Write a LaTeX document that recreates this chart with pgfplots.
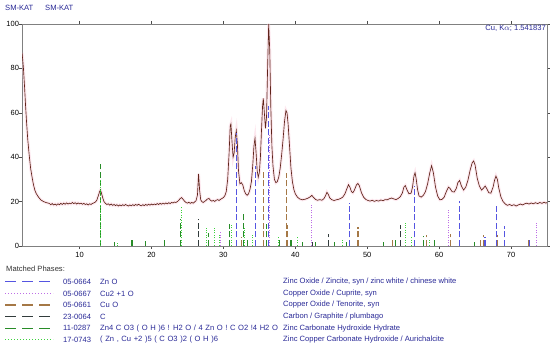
\documentclass[border=0pt]{standalone}
\usepackage{fontspec}
\setmainfont{Liberation Sans}
\usepackage{pgfplots}
\pgfplotsset{compat=1.18}
\definecolor{curvebrown}{RGB}{95,35,25}
\definecolor{curveshade}{RGB}{250,205,220}
\definecolor{znoblue}{RGB}{85,85,225}
\definecolor{cuviolet}{RGB}{190,110,230}
\definecolor{cuobrown}{RGB}{165,120,70}
\definecolor{cgray}{RGB}{50,60,60}
\definecolor{hzgreen}{RGB}{40,140,40}
\definecolor{augreen}{RGB}{60,210,60}
\definecolor{textblue}{RGB}{40,40,150}
\newcommand\frm[1]{{\spaceskip=0.34em\relax #1}}
\begin{document}
\begin{tikzpicture}[font=\fontsize{7.6}{8}\selectfont]
\useasboundingbox (0pt,0pt) rectangle (550pt,344pt);
\begin{axis}[scale only axis,width=525pt,height=222pt,at={(22pt,98pt)},anchor=south west,
  xmin=2,xmax=75,ymin=0,ymax=100,xtick={10,20,30,40,50,60,70},ytick={0,20,40,60,80,100},
  tick align=outside,major tick length=3pt,axis line style={draw=black!50},
  every tick/.style={black!70},/pgf/number format/assume math mode=true,
  tick label style={font=\fontsize{7.5}{8}\selectfont},yticklabel style={xshift=3.5pt}]
% measured pattern
\addplot[curvebrown,line width=0.65pt,preaction={draw=curveshade,line width=3pt,opacity=0.45}] coordinates {
(2.0,87)(2.1,84)(2.2,80)(2.35,72)(2.5,63)(2.65,55)(2.8,48)(3.0,41)(3.2,35)(3.4,31)(3.6,27.5)(3.8,25)(4.0,23.5)(4.3,22)(4.6,20.8)(5.0,20)(5.4,19.5)(5.8,19.2)
(6.0,18.6)(6.2,19.1)(6.4,18.5)(6.6,18.9)(6.8,18.4)(7.0,19.0)(7.2,18.6)(7.4,19.2)(7.6,18.7)(7.8,19.3)(8.0,18.8)(8.2,19.4)(8.4,18.9)(8.6,19.3)(8.8,19.0)
(9.0,19.6)(9.2,19.1)(9.4,19.5)(9.6,18.9)(9.8,19.4)(10.0,19.0)(10.2,19.3)(10.4,18.8)(10.6,19.2)(10.8,18.7)(11.0,19.0)(11.2,18.5)(11.4,19.0)(11.6,18.7)
(11.8,19.2)(12.0,19.4)(12.2,19.8)(12.4,20.6)(12.6,22.5)(12.8,24.6)(12.9,25.2)(13.0,24.4)(13.2,22.0)(13.4,20.0)(13.6,19.2)(13.8,18.7)(14.0,19.0)
(14.2,18.4)(14.4,18.9)(14.6,18.3)(14.8,18.7)(15.0,18.2)(15.2,18.6)(15.4,18.0)(15.6,18.5)(15.8,18.1)(16.0,18.6)(16.2,18.2)(16.4,18.7)(16.6,18.3)
(16.8,18.0)(17.0,18.5)(17.2,18.1)(17.4,18.6)(17.6,18.2)(17.8,18.7)(18.0,18.3)(18.2,18.8)(18.4,18.4)(18.6,18.1)(18.8,18.6)(19.0,18.2)(19.2,18.7)
(19.4,18.3)(19.6,18.8)(19.8,18.4)(20.0,18.9)(20.2,18.5)(20.4,18.9)(20.6,18.6)(20.8,19.1)(21.0,18.7)(21.2,19.2)(21.4,18.8)(21.6,19.3)(21.8,18.9)
(22.0,19.4)(22.2,19.0)(22.4,19.5)(22.6,19.1)(22.8,19.6)(23.0,19.4)(23.2,19.8)(23.4,19.6)(23.6,20.0)(23.8,20.6)(24.0,21.4)(24.2,21.8)(24.4,21.0)
(24.6,20.2)(24.8,19.6)(25.0,19.3)(25.2,19.7)(25.4,19.2)(25.6,19.6)(25.8,19.3)(26.0,19.8)(26.2,20.4)(26.4,23)(26.55,32.5)(26.7,25)(26.85,20.8)
(27.0,20.0)(27.2,19.6)(27.4,20.1)(27.6,20.6)(27.8,21.2)(28.0,21.4)(28.2,20.6)(28.4,20.2)(28.6,20.5)(28.8,20.1)(29.0,20.6)(29.2,20.9)(29.4,20.5)
(29.6,21.0)(29.8,21.4)(30.0,21.8)(30.2,22.6)(30.4,24.5)(30.6,30)(30.8,42)(30.95,54)(31.05,55)(31.2,47)(31.35,40)(31.5,42)(31.65,49)(31.8,52)
(31.95,46)(32.1,34)(32.3,28)(32.5,28.5)(32.7,27.5)(32.9,25)(33.1,23.5)(33.3,22.8)(33.5,23.5)(33.7,25.5)(33.9,29)(34.1,37)(34.25,45)(34.4,48.5)
(34.55,42)(34.7,34)(34.85,31)(35.0,33)(35.15,40)(35.3,52)(35.45,63)(35.55,66.5)(35.7,60)(35.85,53)(36.0,58)(36.15,80)(36.3,100)(36.45,88)
(36.6,62)(36.75,45)(36.9,36)(37.1,30)(37.3,28.5)(37.5,29)(37.7,31)(37.9,35)(38.1,41)(38.3,48)(38.5,56)(38.7,61)(38.85,60)(39.0,55)(39.2,45)
(39.4,35)(39.6,29)(39.8,25.5)(40.0,23.5)(40.3,22.0)(40.6,21.2)(41.0,20.8)(41.4,21.1)(41.8,21.6)(42.1,22.2)(42.3,22.8)(42.5,22.0)(42.8,21.0)
(43.1,20.6)(43.4,20.9)(43.7,20.6)(44.0,21.4)(44.2,22.6)(44.4,24.2)(44.6,23.2)(44.8,21.6)(45.1,20.8)(45.4,20.5)(45.7,20.8)(46.0,21.0)(46.3,21.4)
(46.6,22.0)(46.9,23.5)(47.2,26.0)(47.4,27.6)(47.6,26.5)(47.8,24.5)(48.0,24.0)(48.2,25.0)(48.5,27.5)(48.7,28.2)(48.9,27.2)(49.2,24.0)(49.5,22.0)
(49.8,21.0)(50.1,20.5)(50.4,20.2)(50.7,20.6)(51.0,20.1)(51.3,20.5)(51.6,20.2)(51.9,20.7)(52.2,20.4)(52.5,20.9)(52.8,20.8)(53.1,21.3)(53.4,21.6)
(53.7,21.2)(54.0,20.9)(54.3,21.4)(54.6,22.2)(54.9,24.0)(55.1,26.5)(55.3,27.2)(55.5,25.5)(55.8,23.5)(56.1,23.8)(56.3,26.5)(56.5,31.5)(56.65,33)
(56.8,30.5)(57.0,25.5)(57.2,22.6)(57.5,22.0)(57.8,22.8)(58.1,24.5)(58.4,28)(58.7,33)(58.95,36.2)(59.2,33)(59.5,26.5)(59.8,22.5)(60.1,20.8)
(60.4,21.0)(60.7,22.0)(61.0,24.5)(61.3,26.5)(61.5,26.0)(61.8,24.5)(62.1,24.3)(62.4,26.0)(62.6,28.5)(62.85,29.5)(63.1,27.0)(63.4,25.2)(63.7,26.5)
(64.0,29.5)(64.3,34.0)(64.6,37.5)(64.8,38.3)(65.0,36.5)(65.3,30.5)(65.6,27.0)(65.9,25.2)(66.1,25.8)(66.4,27.0)(66.6,26.0)(66.9,24.0)(67.2,23.8)
(67.5,26.5)(67.7,29.5)(67.9,31.5)(68.1,30.0)(68.3,26.0)(68.6,22.0)(68.9,20.0)(69.2,18.9)(69.5,18.3)(69.8,18.7)(70.1,18.2)(70.4,18.6)(70.7,18.0)
(71.0,18.5)(71.3,18.9)(71.6,18.5)(71.9,19.0)(72.2,19.3)(72.5,18.9)(72.8,19.4)(73.1,19.0)(73.4,19.5)(73.7,19.1)(74.0,19.6)(74.3,19.2)(74.6,19.7)
(74.85,19.3)(75.0,19.6)};
% reference sticks
\addplot[ycomb,hzgreen,line width=1.1pt,dash pattern=on 6pt off 2.5pt] coordinates {
(12.95,37)(14.8,2)(17.3,3.7)(19.2,2.4)(21.8,3.3)(24.1,12)(27.9,5.8)(30.9,10)(32.75,15)(33.3,3)(36.0,10)(37.8,3)(39.4,3)(41.0,2)(42.8,2)
(45.5,2)(47.1,2)(52.3,2)(53.9,3)(57.8,4.5)(59.3,3.5)(64.9,2)};
\addplot[ycomb,augreen,line width=0.9pt,dash pattern=on 1pt off 1.5pt] coordinates {
(12.85,30)(15.3,1.5)(24.2,17.7)(27.6,8)(28.7,8)(29.4,5)(31.15,9.5)(33.0,8)(34.1,5)(37.7,4.2)(40.3,4.5)(46.6,3)(55.3,10.2)(56.1,4.5)(58.7,3)};
\addplot[ycomb,cgray,line width=1.1pt,dash pattern=on 6pt off 2.5pt] coordinates {
(26.55,12)(42.4,2)(44.6,5.3)(54.6,9.5)};
\addplot[ycomb,cuobrown,line width=1.1pt,dash pattern=on 6pt off 2.5pt] coordinates {
(32.5,4)(35.54,33.5)(38.74,33)(38.95,9.5)(48.72,8.7)(53.49,3.5)(58.27,5)(61.52,5.4)(65.8,3)(66.22,5)(68.12,5)(72.4,2.5)};
\addplot[ycomb,cuviolet,line width=0.9pt,dash pattern=on 1pt off 1.5pt] coordinates {
(29.55,6.5)(36.42,50)(42.30,18.5)(61.35,16)(73.53,10.4)};
\addplot[ycomb,znoblue,line width=1.1pt,dash pattern=on 6pt off 2.5pt] coordinates {
(31.77,51)(34.42,36)(36.25,63)(47.54,19.4)(56.60,27)(62.86,20.4)(66.38,4)(67.96,18.8)(69.10,9)(72.56,2.5)};
\end{axis}
\node[anchor=west,text=textblue,inner sep=0pt] at (5pt,335.7pt) {SM-KAT};
\node[anchor=west,text=textblue,inner sep=0pt] at (45pt,335.7pt) {SM-KAT};
\node[anchor=east,text=textblue,inner sep=0pt] at (546pt,315.5pt) {Cu, K\(\alpha\); 1.541837};
\node[anchor=west,text=black!80,inner sep=0pt] at (6pt,75pt) {Matched Phases:};
\draw[znoblue,line width=1.2pt,dash pattern=on 11pt off 6pt] (5pt,62.3pt) -- (51pt,62.3pt);
\draw[cuviolet,line width=1pt,dash pattern=on 1pt off 2pt] (5pt,50.6pt) -- (53pt,50.6pt);
\draw[cuobrown,line width=1.2pt,dash pattern=on 11pt off 6pt] (5pt,39pt) -- (51pt,39pt);
\draw[cgray,line width=1.2pt,dash pattern=on 11pt off 6pt] (5pt,27.3pt) -- (51pt,27.3pt);
\draw[hzgreen,line width=1.2pt,dash pattern=on 11pt off 6pt] (5pt,15.7pt) -- (51pt,15.7pt);
\draw[augreen,line width=1pt,dash pattern=on 1pt off 2pt] (5pt,4pt) -- (53pt,4pt);
\begin{scope}[every node/.style={anchor=west,text=textblue,inner sep=0pt}]
\node at (63pt,62.3pt) {05-0664}; \node at (100pt,62.3pt) {\frm{Zn O}}; \node at (283pt,62.3pt) {Zinc Oxide / Zincite, syn / zinc white / chinese white};
\node at (63pt,50.6pt) {05-0667}; \node at (100pt,50.6pt) {\frm{Cu2 +1 O}}; \node at (283pt,50.6pt) {Copper Oxide / Cuprite, syn};
\node at (63pt,39pt) {05-0661}; \node at (100pt,39pt) {\frm{Cu O}}; \node at (283pt,39pt) {Copper Oxide / Tenorite, syn};
\node at (63pt,27.3pt) {23-0064}; \node at (100pt,27.3pt) {\frm{C}}; \node at (283pt,27.3pt) {Carbon / Graphite / plumbago};
\node at (63pt,15.7pt) {11-0287}; \node at (100pt,15.7pt) {\frm{Zn4 C O3 ( O H )6 ! H2 O / 4 Zn O ! C O2 !4 H2 O}}; \node at (283pt,15.7pt) {Zinc Carbonate Hydroxide Hydrate};
\node at (63pt,4pt) {17-0743}; \node at (100pt,4pt) {\frm{( Zn , Cu +2 )5 ( C O3 )2 ( O H )6}}; \node at (283pt,4pt) {Zinc Copper Carbonate Hydroxide / Aurichalcite};
\end{scope}
\end{tikzpicture}
\end{document}
